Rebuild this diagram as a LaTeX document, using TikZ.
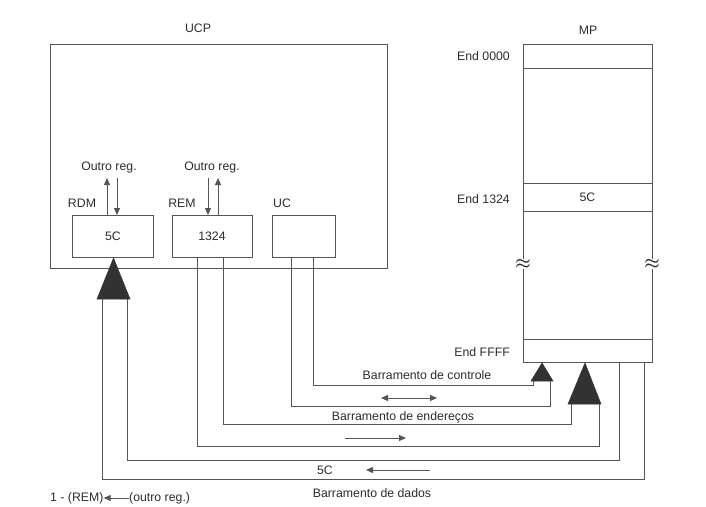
\documentclass[tikz,border=0pt]{standalone}
\usepackage{fontspec}
\setmainfont{Liberation Sans}
\usetikzlibrary{arrows.meta}
\definecolor{ln}{RGB}{85,85,85}
\definecolor{tx}{RGB}{45,45,45}
\definecolor{tri}{RGB}{50,50,50}
\begin{document}
\begin{tikzpicture}[x=1pt,y=-1pt,
  every node/.style={text=tx,font=\fontsize{12.3}{14}\selectfont},
  boxa/.style={draw=ln,line width=0.9pt,inner sep=0pt,fill=none},
  bus/.style={draw=ln,line width=0.9pt},
  small/.style={draw=ln,line width=0.8pt,-{Triangle[length=7pt,width=6pt]}},
  head/.style={fill=tri,draw=tri,line width=0.5pt},
  lbl/.style={inner sep=0pt}]
\clip (0,0) rectangle (706,506);
\fill[white] (0,0) rectangle (706,506);

% UCP
\node[boxa,minimum width=337pt,minimum height=224pt] (ucp) at (218.5,156) {};
\node[lbl] (ucpl) at (198,28) {UCP};
\node[boxa,minimum width=81pt,minimum height=42pt] (rdm) at (113,236) {5C};
\node[boxa,minimum width=80pt,minimum height=42pt] (rem) at (212,236) {1324};
\node[boxa,minimum width=63pt,minimum height=42pt] (uc) at (303.5,236) {};
\node[lbl] (rdml) at (82,203) {RDM};
\node[lbl] (reml) at (182,203) {REM};
\node[lbl] (ucl) at (282,203) {UC};
\node[lbl] (or1) at (109,167) {Outro reg.};
\node[lbl] (or2) at (212,167) {Outro reg.};
\coordinate (a1t) at (107,178); \coordinate (a1b) at (107,215);
\coordinate (a2t) at (117,178); \coordinate (a2b) at (117,215);
\coordinate (a3t) at (208,178); \coordinate (a3b) at (208,215);
\coordinate (a4t) at (218,178); \coordinate (a4b) at (218,215);
\draw[small] (a1b) -- (a1t);
\draw[small] (a2t) -- (a2b);
\draw[small] (a3t) -- (a3b);
\draw[small] (a4b) -- (a4t);

% MP
\node[boxa,minimum width=129pt,minimum height=318pt] (mp) at (587.5,203) {};
\node[lbl] (mpl) at (588,30) {MP};
\node[boxa,minimum width=129pt,minimum height=24pt] (c0) at (587.5,56) {};
\node[boxa,minimum width=129pt,minimum height=28pt] (c1) at (587.5,197) {5C};
\node[boxa,minimum width=129pt,minimum height=23pt] (cf) at (587.5,350.5) {};
\node[lbl,anchor=east] (e0) at (510,56) {End 0000};
\node[lbl,anchor=east] (e1) at (510,199) {End 1324};
\node[lbl,anchor=east] (ef) at (510,352) {End FFFF};
\node[fill=white,inner sep=0pt,font=\LARGE\boldmath] (z1) at (523,264) {$\approx$};
\node[fill=white,inner sep=0pt,font=\LARGE\boldmath] (z2) at (652,264) {$\approx$};

% heads
\draw[head] (97,299) -- (130,299) -- (113.5,258) -- cycle;
\draw[head] (531,381) -- (553,381) -- (542,363) -- cycle;
\draw[head] (568,404) -- (601,404) -- (585,363) -- cycle;

% control bus
\draw[bus] (313,257) -- (313,385) -- (533,385) -- (533,381);
\draw[bus] (291,257) -- (291,406) -- (550,406) -- (550,381);
% address bus
\draw[bus] (223,257) -- (223,424) -- (571,424) -- (571,404);
\draw[bus] (197,257) -- (197,446) -- (599,446) -- (599,404);
% data bus
\draw[bus] (127,299) -- (127,460) -- (619,460) -- (619,362);
\draw[bus] (102,299) -- (102,479) -- (644,479) -- (644,362);

% bus labels
\node[lbl] (bc) at (427,375) {Barramento de controle};
\coordinate (d1) at (381,398); \coordinate (d2) at (437,398);
\draw[small,{Triangle[length=7pt,width=6pt]}-{Triangle[length=7pt,width=6pt]}] (d1) -- (d2);
\node[lbl] (be) at (403,417) {Barramento de endere\c{c}os};
\coordinate (r1) at (345,438); \coordinate (r2) at (406,438);
\draw[small] (r1) -- (r2);
\node[lbl] (v5) at (325,470) {5C};
\coordinate (l1) at (430,470); \coordinate (l2) at (366,470);
\draw[small] (l1) -- (l2);
\node[lbl] (bd) at (372,493) {Barramento de dados};

% note
\node[lbl,anchor=west] (n1) at (50,498) {1 - (REM)};
\node[lbl,anchor=west] (n2) at (129,498) {(outro reg.)};
\draw[small] (n2.west) -- (n1.east);
\end{tikzpicture}
\end{document}
